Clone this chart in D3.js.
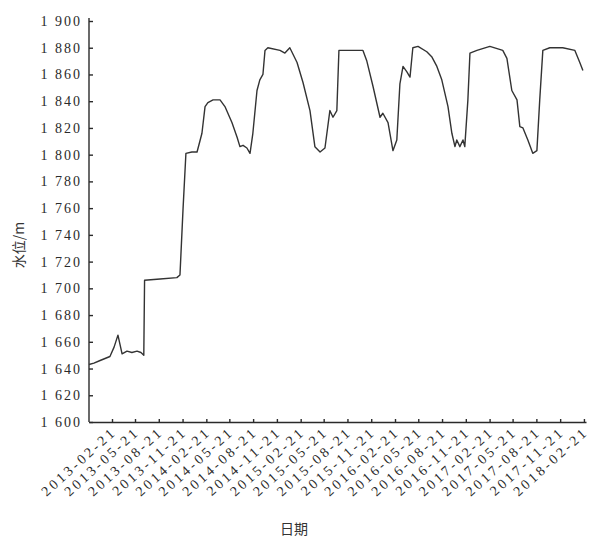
<!DOCTYPE html>
<html lang="zh">
<head>
<meta charset="UTF-8">
<title>水位过程线</title>
<script src="https://d3js.org/d3.v7.min.js"></script>
<style>
  * { margin: 0; padding: 0; }
  body { background: #fff; width: 591px; height: 541px; overflow: hidden; }
  svg { display: block; }
  .axis text { font-family: "Liberation Serif", "Times New Roman", serif; font-size: 14px; fill: #2a2a2a; letter-spacing: 2px; }
  .axis path, .axis line { stroke: #2a2a2a; stroke-width: 1.4; }
  .lbl { font-family: "Noto Sans CJK SC", sans-serif; font-size: 14px; fill: #333; }
</style>
</head>
<body>
<svg id="chart" width="591" height="541"></svg>
<script>
// 日期与水位（m）
const dates = [
  '2012-11-24', '2012-12-13', '2013-01-06', '2013-02-13', '2013-03-01', '2013-03-16',
  '2013-04-01', '2013-04-20', '2013-05-09', '2013-05-29', '2013-06-13', '2013-06-24',
  '2013-06-27', '2013-08-26', '2013-10-30', '2013-11-11', '2013-11-23', '2013-12-04',
  '2013-12-27', '2014-01-16', '2014-01-27', '2014-02-04', '2014-02-16', '2014-02-27',
  '2014-03-19', '2014-04-15', '2014-05-04', '2014-05-31', '2014-06-20', '2014-07-01',
  '2014-07-13', '2014-07-28', '2014-08-09', '2014-08-20', '2014-09-05', '2014-09-16',
  '2014-09-28', '2014-10-06', '2014-10-17', '2014-12-03', '2014-12-22', '2015-01-10',
  '2015-02-07', '2015-03-02', '2015-03-29', '2015-04-17', '2015-05-07', '2015-05-26',
  '2015-06-14', '2015-06-26', '2015-07-11', '2015-07-19', '2015-08-31', '2015-10-20',
  '2015-11-04', '2015-11-28', '2015-12-25', '2016-01-05', '2016-01-25', '2016-02-13',
  '2016-02-28', '2016-03-11', '2016-03-23', '2016-04-07', '2016-04-19', '2016-04-30',
  '2016-05-20', '2016-06-23', '2016-07-13', '2016-08-01', '2016-08-20', '2016-09-13',
  '2016-09-28', '2016-10-10', '2016-10-17', '2016-10-29', '2016-11-10', '2016-11-17',
  '2016-11-29', '2016-12-07', '2017-01-03', '2017-02-22', '2017-04-13', '2017-04-29',
  '2017-05-18', '2017-06-07', '2017-06-18', '2017-06-30', '2017-07-19', '2017-08-07',
  '2017-08-23', '2017-09-03', '2017-09-15', '2017-10-12', '2017-12-01', '2018-01-17',
  '2018-02-05', '2018-02-17'
];
const levels = [
  1643, 1644, 1646, 1649, 1656, 1665,
  1651, 1653, 1652, 1653, 1652, 1650,
  1706, 1707, 1708, 1710, 1760, 1801,
  1802, 1802, 1810, 1816, 1836, 1839,
  1841, 1841, 1836, 1824, 1813, 1806,
  1807, 1805, 1801, 1816, 1848, 1856,
  1860, 1878, 1880, 1878, 1876, 1880,
  1869, 1854, 1833, 1806, 1802, 1805,
  1833, 1828, 1833, 1878, 1878, 1878,
  1870, 1851, 1828, 1831, 1824, 1803,
  1811, 1853, 1866, 1862, 1858, 1880,
  1881, 1877, 1873, 1866, 1856, 1836,
  1816, 1806, 1811, 1806, 1811, 1806,
  1841, 1876, 1878, 1881, 1878, 1872,
  1848, 1841, 1821, 1820, 1811, 1801,
  1803, 1841, 1878, 1880, 1880, 1878,
  1869, 1863
];
const tickDates = [
  '2013-02-21', '2013-05-21', '2013-08-21', '2013-11-21', '2014-02-21', '2014-05-21',
  '2014-08-21', '2014-11-21', '2015-02-21', '2015-05-21', '2015-08-21', '2015-11-21',
  '2016-02-21', '2016-05-21', '2016-08-21', '2016-11-21', '2017-02-21', '2017-05-21',
  '2017-08-21', '2017-11-21', '2018-02-21'
];
const yTicks = d3.range(1600, 1901, 20);

(function() {
  const parse = d3.timeParse('%Y-%m-%d');
  const fmtDate = d3.timeFormat('%Y-%m-%d');
  const data = dates.map((d, i) => ({ t: parse(d), v: levels[i] }));

  const svg = d3.select('#chart');
  const x0 = 89, x1 = 586, y0 = 21, y1 = 422;

  const x = d3.scaleTime()
    .domain([parse('2012-11-24'), parse('2018-03-01')])
    .range([x0, x1]);
  const y = d3.scaleLinear().domain([1600, 1900]).range([y1, y0]);

  const zh = d3.formatLocale({ decimal: '.', thousands: ' ', grouping: [3], currency: ['', ''] });
  const fmtY = zh.format(',');

  // 纵轴
  const gy = svg.append('g').attr('class', 'axis')
    .attr('transform', `translate(${x0},0)`)
    .call(d3.axisLeft(y).tickValues(yTicks).tickFormat(fmtY).tickSizeInner(-4).tickSizeOuter(0).tickPadding(7));
  gy.select('.domain').attr('d', `M0,${y0 - 3}V${y1}`);

  // 横轴
  const gx = svg.append('g').attr('class', 'axis')
    .attr('transform', `translate(0,${y1})`)
    .call(d3.axisBottom(x).tickValues(tickDates.map(parse)).tickFormat(fmtDate).tickSizeInner(-3).tickSizeOuter(0));
  gx.selectAll('text')
    .attr('text-anchor', 'end')
    .attr('dy', '0.3em')
    .attr('x', 0).attr('y', 0)
    .attr('transform', 'translate(2,8) rotate(-42)')
    .style('letter-spacing', '3px');

  // 水位过程线
  svg.append('path')
    .datum(data)
    .attr('fill', 'none')
    .attr('stroke', '#333')
    .attr('stroke-width', 1.4)
    .attr('stroke-linejoin', 'round')
    .attr('d', d3.line().x(d => x(d.t)).y(d => y(d.v)));

  // 轴标题
  svg.append('text').attr('class', 'lbl')
    .attr('transform', 'translate(24,245) rotate(-90)')
    .attr('text-anchor', 'middle')
    .text('水位/m');
  svg.append('text').attr('class', 'lbl')
    .attr('x', 294).attr('y', 534)
    .attr('text-anchor', 'middle')
    .text('日期');
})();
</script>
</body>
</html>
